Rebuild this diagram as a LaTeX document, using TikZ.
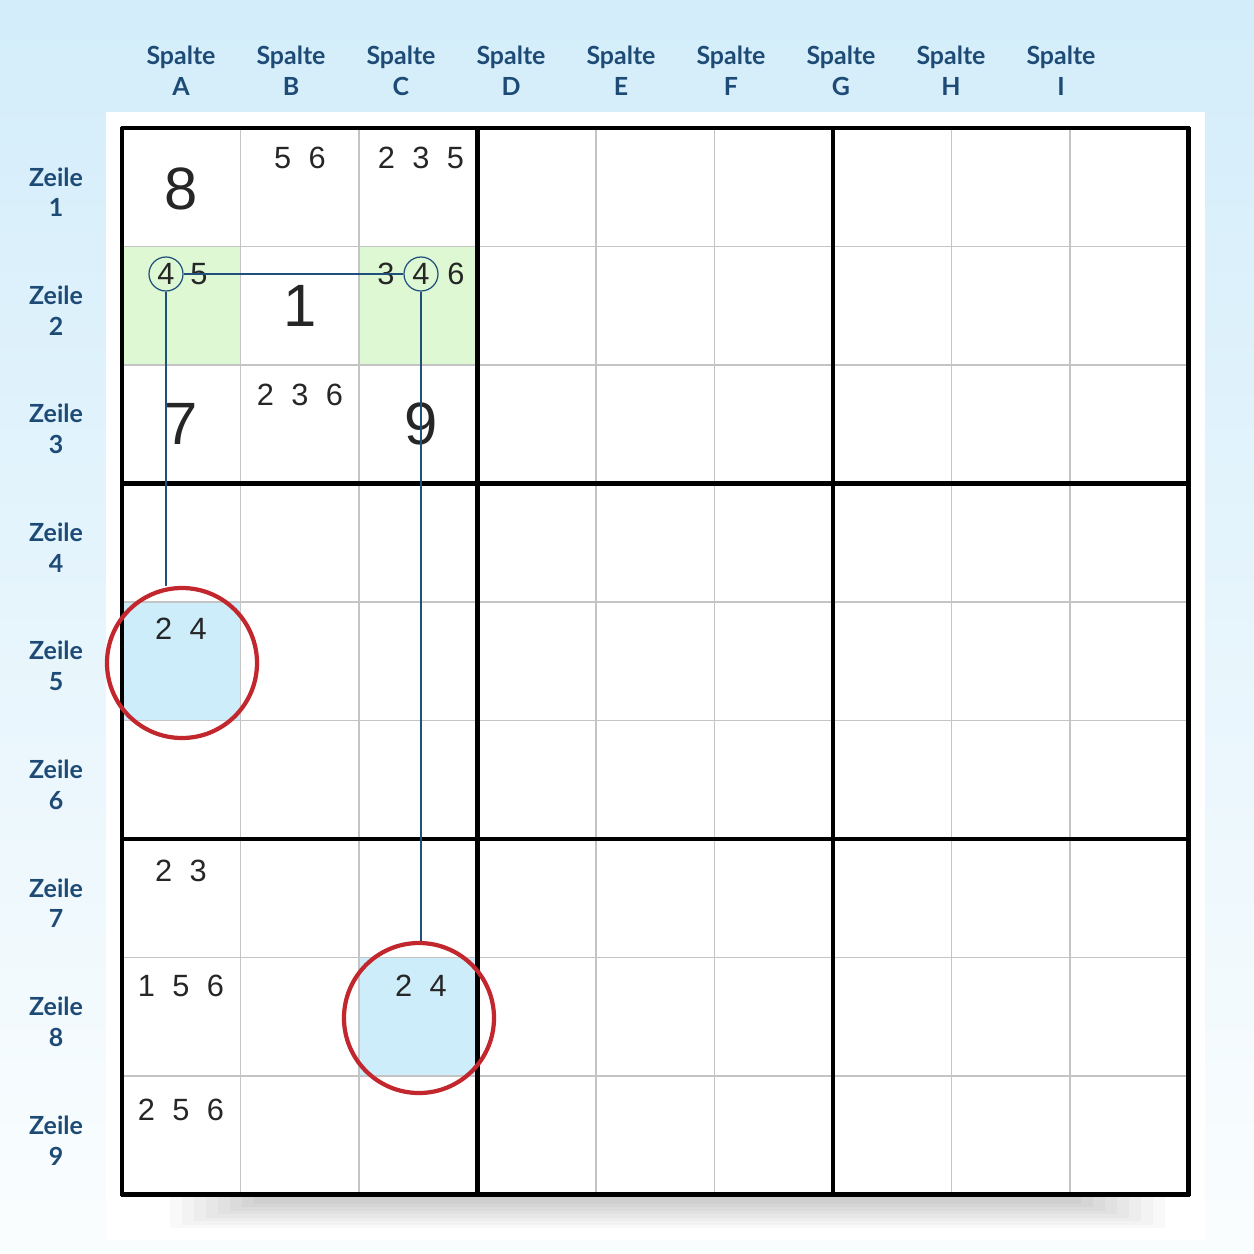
\documentclass[tikz,border=0pt]{standalone}
\usepackage{fontspec}
\setmainfont{Liberation Sans}
\newfontfamily\headfont{Lato}
\usetikzlibrary{positioning,shadows}

\definecolor{headblue}{HTML}{1D4B76}
\definecolor{linkblue}{HTML}{1F4F7A}
\definecolor{ringred}{HTML}{C1272D}
\definecolor{pairgreen}{HTML}{DDF8D3}
\definecolor{targetblue}{HTML}{CDEDFA}
\definecolor{bgblue}{HTML}{D3EDFA}
\definecolor{gridgray}{HTML}{C4C4C4}

% gap between two candidates in one cell
\newcommand{\gp}{\hspace{9.9pt}}

\begin{document}
\begin{tikzpicture}[x=0.2mm, y=-0.2mm,
    colhead/.style={font=\headfont\bfseries\fontsize{14.2}{17.6}\selectfont, text=headblue, align=center},
    rowhead/.style={font=\headfont\bfseries\fontsize{14.2}{17.6}\selectfont, text=headblue, align=center},
    given/.style={font=\fontsize{34}{34}\selectfont, text=black!85, inner sep=0pt},
    cand/.style={font=\fontsize{17.5}{17.5}\selectfont, text=black!85, inner sep=0pt},
    pick/.style={cand, circle, draw=linkblue, line width=0.7pt, minimum size=6.8mm},
    ring/.style={circle, draw=ringred, line width=2.4pt, minimum size=30mm},
    link/.style={draw=linkblue, line width=0.9pt}]

    % background and panel
    \useasboundingbox (0,0) rectangle (1254,1254);
    \shade[top color=bgblue, bottom color=bgblue!10] (0,0) rectangle (1254,1254);
    \fill[white] (106,112) rectangle (1205,1240);
    \foreach \k in {0,...,7}
        \fill[black, opacity=0.022] (170+12*\k,1196) rectangle (1165-12*\k,1228-3.5*\k);

    % highlighted cells
    \fill[pairgreen] (122,246.5) rectangle (240.5,365);
    \fill[pairgreen] (359,246.5) rectangle (477.5,365);
    \fill[targetblue] (122,602) rectangle (240.5,720.5);
    \fill[targetblue] (359,957.5) rectangle (477.5,1076);

    % grid
    \foreach \i in {1,2,4,5,7,8} {
        \draw[gridgray, line width=1.1pt] (122+118.5*\i,128) -- (122+118.5*\i,1194.5);
        \draw[gridgray, line width=1.1pt] (122,128+118.5*\i) -- (1188.5,128+118.5*\i);
    }
    \foreach \i in {0,3,6,9} {
        \draw[black, line width=2.6pt] (122+118.5*\i,126.5) -- (122+118.5*\i,1196);
        \draw[black, line width=2.6pt] (120.5,128+118.5*\i) -- (1190,128+118.5*\i);
    }

    % headers
    \foreach \c [count=\i from 0] in {A,B,C,D,E,F,G,H,I}
        \node[colhead] (col\c) at (181+110*\i,71) {Spalte\\\c};
    \foreach \r in {1,...,9}
        \node[rowhead] (row\r) at (56,133+118.5*\r-59.25) {Zeile\\\r};

    % given digits
    \node[given] (gA1) at (181,189) {8};
    \node[given] (gB2) at (300,306) {1};
    \node[given] (gA3) at (181,424) {7};
    \node[given] (gC3) at (421,424) {9};

    % candidates
    \node[cand] (cB1) at (300,158) {5\gp6};
    \node[cand] (cC1) at (421,158) {2\gp3\gp5};
    \node[cand] (cB3) at (300,395) {2\gp3\gp6};
    \node[cand] (cA5) at (181,629) {2\gp4};
    \node[cand] (cA7) at (181,871) {2\gp3};
    \node[cand] (cA8) at (181,986) {1\gp5\gp6};
    \node[cand] (cA9) at (181,1110) {2\gp5\gp6};
    \node[cand] (cC8) at (421,986) {2\gp4};

    % the pair in row 2
    \node[pick] (pA2) at (166,274) {4};
    \node[cand] (cA2) at (199,274) {5};
    \node[pick] (pC2) at (421,274) {4};
    \node[cand] (cC2a) at (386,274) {3};
    \node[cand] (cC2b) at (456,274) {6};

    % target cells
    \node[ring] (rA5) at (182,663) {};
    \node[ring] (rC8) at (419,1018) {};

    % connectors
    \draw[link] (pA2.east) -- (pC2.west);
    \draw[link] (pA2.south) -- (pA2 |- rA5.north);
    \draw[link] (pC2.south) -- (pC2 |- rC8.north);

\end{tikzpicture}
\end{document}
